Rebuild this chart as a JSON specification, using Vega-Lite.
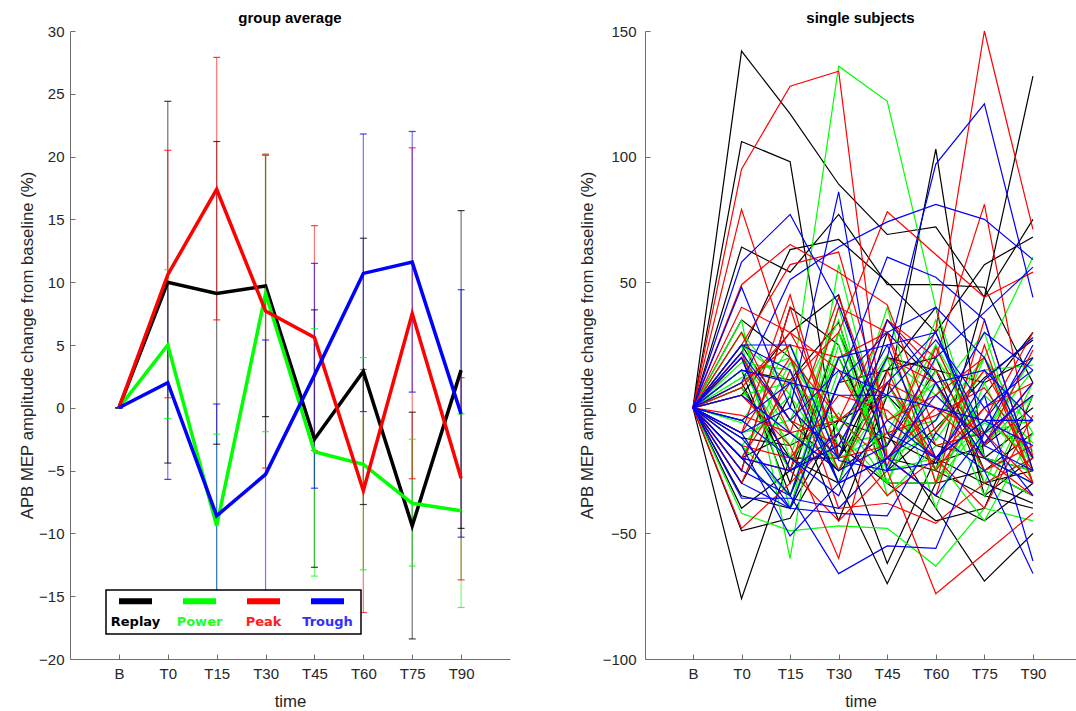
{
"$schema":"https://vega.github.io/schema/vega-lite/v6.json",
"background":"white",
"padding":{"left":19,"top":11,"right":0,"bottom":0},
"spacing":135,
"bounds":"flush",
"config":{"view":{"stroke":null},"font":"Liberation Sans",
"axis":{"domainColor":"#6e6e6e","tickColor":"#6e6e6e","labelColor":"#262626","labelFontSize":15,"titleFontSize":16.8,"titleFontWeight":"normal","titleColor":"#262626","grid":false,"tickSize":-5,"labelPadding":12,"titlePadding":12},
"title":{"fontSize":15,"fontWeight":"bold","color":"#000000","offset":-2,"font":"Liberation Sans"}},
"datasets":{
"avg":[
{"g":"Replay","t":"B","m":0,"lo":0,"hi":0},{"g":"Replay","t":"T0","m":10.0,"lo":-4.4,"hi":24.4},{"g":"Replay","t":"T15","m":9.1,"lo":-2.9,"hi":21.2},{"g":"Replay","t":"T30","m":9.7,"lo":-0.7,"hi":20.1},{"g":"Replay","t":"T45","m":-2.5,"lo":-12.7,"hi":7.8},{"g":"Replay","t":"T60","m":2.9,"lo":-7.7,"hi":13.5},{"g":"Replay","t":"T75","m":-9.4,"lo":-18.4,"hi":-0.35},{"g":"Replay","t":"T90","m":3.0,"lo":-9.6,"hi":15.7},
{"g":"Power","t":"B","m":0,"lo":0,"hi":0},{"g":"Power","t":"T0","m":5.0,"lo":-0.85,"hi":11.0},{"g":"Power","t":"T15","m":-9.4,"lo":-16.8,"hi":-2.1},{"g":"Power","t":"T30","m":9.1,"lo":-1.9,"hi":20.1},{"g":"Power","t":"T45","m":-3.5,"lo":-13.4,"hi":6.3},{"g":"Power","t":"T60","m":-4.5,"lo":-12.9,"hi":4.0},{"g":"Power","t":"T75","m":-7.6,"lo":-12.6,"hi":-2.5},{"g":"Power","t":"T90","m":-8.2,"lo":-15.9,"hi":-0.5},
{"g":"Peak","t":"B","m":0,"lo":0,"hi":0},{"g":"Peak","t":"T0","m":10.6,"lo":0.8,"hi":20.5},{"g":"Peak","t":"T15","m":17.4,"lo":7.0,"hi":27.9},{"g":"Peak","t":"T30","m":7.7,"lo":-4.8,"hi":20.2},{"g":"Peak","t":"T45","m":5.6,"lo":-3.4,"hi":14.5},{"g":"Peak","t":"T60","m":-6.6,"lo":-16.3,"hi":3.05},{"g":"Peak","t":"T75","m":7.5,"lo":-5.65,"hi":20.7},{"g":"Peak","t":"T90","m":-5.6,"lo":-13.7,"hi":2.4},
{"g":"Trough","t":"B","m":0,"lo":0,"hi":0},{"g":"Trough","t":"T0","m":2.0,"lo":-5.7,"hi":9.9},{"g":"Trough","t":"T15","m":-8.6,"lo":-17.6,"hi":0.3},{"g":"Trough","t":"T30","m":-5.3,"lo":-16.0,"hi":5.4},{"g":"Trough","t":"T45","m":2.6,"lo":-6.4,"hi":11.5},{"g":"Trough","t":"T60","m":10.7,"lo":-0.3,"hi":21.8},{"g":"Trough","t":"T75","m":11.6,"lo":1.25,"hi":22.0},{"g":"Trough","t":"T90","m":-0.5,"lo":-10.3,"hi":9.4}
],
"subj":[
{"g":"Replay","s":"R1","t":"B","v":0},{"g":"Replay","s":"R1","t":"T0","v":142},{"g":"Replay","s":"R1","t":"T15","v":117},{"g":"Replay","s":"R1","t":"T30","v":89},{"g":"Replay","s":"R1","t":"T45","v":69},{"g":"Replay","s":"R1","t":"T60","v":72},{"g":"Replay","s":"R1","t":"T75","v":44},{"g":"Replay","s":"R1","t":"T90","v":75},
{"g":"Replay","s":"R2","t":"B","v":0},{"g":"Replay","s":"R2","t":"T0","v":106},{"g":"Replay","s":"R2","t":"T15","v":98},{"g":"Replay","s":"R2","t":"T30","v":-20},{"g":"Replay","s":"R2","t":"T45","v":10},{"g":"Replay","s":"R2","t":"T60","v":-25},{"g":"Replay","s":"R2","t":"T75","v":-35},{"g":"Replay","s":"R2","t":"T90","v":-40},
{"g":"Replay","s":"R3","t":"B","v":0},{"g":"Replay","s":"R3","t":"T0","v":64},{"g":"Replay","s":"R3","t":"T15","v":54},{"g":"Replay","s":"R3","t":"T30","v":77},{"g":"Replay","s":"R3","t":"T45","v":49},{"g":"Replay","s":"R3","t":"T60","v":49},{"g":"Replay","s":"R3","t":"T75","v":48},{"g":"Replay","s":"R3","t":"T90","v":10},
{"g":"Replay","s":"R4","t":"B","v":0},{"g":"Replay","s":"R4","t":"T0","v":22},{"g":"Replay","s":"R4","t":"T15","v":63},{"g":"Replay","s":"R4","t":"T30","v":67},{"g":"Replay","s":"R4","t":"T45","v":50},{"g":"Replay","s":"R4","t":"T60","v":30},{"g":"Replay","s":"R4","t":"T75","v":57},{"g":"Replay","s":"R4","t":"T90","v":68},
{"g":"Replay","s":"R5","t":"B","v":0},{"g":"Replay","s":"R5","t":"T0","v":-76},{"g":"Replay","s":"R5","t":"T15","v":-20},{"g":"Replay","s":"R5","t":"T30","v":-30},{"g":"Replay","s":"R5","t":"T45","v":-70},{"g":"Replay","s":"R5","t":"T60","v":-30},{"g":"Replay","s":"R5","t":"T75","v":-25},{"g":"Replay","s":"R5","t":"T90","v":-35},
{"g":"Replay","s":"R6","t":"B","v":0},{"g":"Replay","s":"R6","t":"T0","v":-49},{"g":"Replay","s":"R6","t":"T15","v":-44},{"g":"Replay","s":"R6","t":"T30","v":-10},{"g":"Replay","s":"R6","t":"T45","v":-62},{"g":"Replay","s":"R6","t":"T60","v":-20},{"g":"Replay","s":"R6","t":"T75","v":-30},{"g":"Replay","s":"R6","t":"T90","v":-38},
{"g":"Replay","s":"R7","t":"B","v":0},{"g":"Replay","s":"R7","t":"T0","v":-30},{"g":"Replay","s":"R7","t":"T15","v":5},{"g":"Replay","s":"R7","t":"T30","v":-45},{"g":"Replay","s":"R7","t":"T45","v":5},{"g":"Replay","s":"R7","t":"T60","v":103},{"g":"Replay","s":"R7","t":"T75","v":-20},{"g":"Replay","s":"R7","t":"T90","v":-30},
{"g":"Replay","s":"R8","t":"B","v":0},{"g":"Replay","s":"R8","t":"T0","v":10},{"g":"Replay","s":"R8","t":"T15","v":-25},{"g":"Replay","s":"R8","t":"T30","v":20},{"g":"Replay","s":"R8","t":"T45","v":-20},{"g":"Replay","s":"R8","t":"T60","v":-25},{"g":"Replay","s":"R8","t":"T75","v":44},{"g":"Replay","s":"R8","t":"T90","v":132},
{"g":"Replay","s":"R9","t":"B","v":0},{"g":"Replay","s":"R9","t":"T0","v":25},{"g":"Replay","s":"R9","t":"T15","v":-5},{"g":"Replay","s":"R9","t":"T30","v":-25},{"g":"Replay","s":"R9","t":"T45","v":-10},{"g":"Replay","s":"R9","t":"T60","v":-40},{"g":"Replay","s":"R9","t":"T75","v":-69},{"g":"Replay","s":"R9","t":"T90","v":-50},
{"g":"Replay","s":"R10","t":"B","v":0},{"g":"Replay","s":"R10","t":"T0","v":20},{"g":"Replay","s":"R10","t":"T15","v":-30},{"g":"Replay","s":"R10","t":"T30","v":30},{"g":"Replay","s":"R10","t":"T45","v":-15},{"g":"Replay","s":"R10","t":"T60","v":15},{"g":"Replay","s":"R10","t":"T75","v":10},{"g":"Replay","s":"R10","t":"T90","v":20},
{"g":"Replay","s":"R11","t":"B","v":0},{"g":"Replay","s":"R11","t":"T0","v":-40},{"g":"Replay","s":"R11","t":"T15","v":-25},{"g":"Replay","s":"R11","t":"T30","v":-15},{"g":"Replay","s":"R11","t":"T45","v":-30},{"g":"Replay","s":"R11","t":"T60","v":-45},{"g":"Replay","s":"R11","t":"T75","v":-40},{"g":"Replay","s":"R11","t":"T90","v":5},
{"g":"Replay","s":"R12","t":"B","v":0},{"g":"Replay","s":"R12","t":"T0","v":8},{"g":"Replay","s":"R12","t":"T15","v":-20},{"g":"Replay","s":"R12","t":"T30","v":-20},{"g":"Replay","s":"R12","t":"T45","v":20},{"g":"Replay","s":"R12","t":"T60","v":15},{"g":"Replay","s":"R12","t":"T75","v":-30},{"g":"Replay","s":"R12","t":"T90","v":-25},
{"g":"Replay","s":"R13","t":"B","v":0},{"g":"Replay","s":"R13","t":"T0","v":-20},{"g":"Replay","s":"R13","t":"T15","v":-10},{"g":"Replay","s":"R13","t":"T30","v":-25},{"g":"Replay","s":"R13","t":"T45","v":15},{"g":"Replay","s":"R13","t":"T60","v":20},{"g":"Replay","s":"R13","t":"T75","v":-25},{"g":"Replay","s":"R13","t":"T90","v":-10},
{"g":"Replay","s":"R14","t":"B","v":0},{"g":"Replay","s":"R14","t":"T0","v":-35},{"g":"Replay","s":"R14","t":"T15","v":-40},{"g":"Replay","s":"R14","t":"T30","v":-5},{"g":"Replay","s":"R14","t":"T45","v":-12},{"g":"Replay","s":"R14","t":"T60","v":-22},{"g":"Replay","s":"R14","t":"T75","v":-15},{"g":"Replay","s":"R14","t":"T90","v":0},
{"g":"Replay","s":"R15","t":"B","v":0},{"g":"Replay","s":"R15","t":"T0","v":5},{"g":"Replay","s":"R15","t":"T15","v":30},{"g":"Replay","s":"R15","t":"T30","v":45},{"g":"Replay","s":"R15","t":"T45","v":-20},{"g":"Replay","s":"R15","t":"T60","v":-35},{"g":"Replay","s":"R15","t":"T75","v":-45},{"g":"Replay","s":"R15","t":"T90","v":-30},
{"g":"Replay","s":"R16","t":"B","v":0},{"g":"Replay","s":"R16","t":"T0","v":-12},{"g":"Replay","s":"R16","t":"T15","v":-15},{"g":"Replay","s":"R16","t":"T30","v":-5},{"g":"Replay","s":"R16","t":"T45","v":5},{"g":"Replay","s":"R16","t":"T60","v":-15},{"g":"Replay","s":"R16","t":"T75","v":-20},{"g":"Replay","s":"R16","t":"T90","v":-5},
{"g":"Replay","s":"R17","t":"B","v":0},{"g":"Replay","s":"R17","t":"T0","v":35},{"g":"Replay","s":"R17","t":"T15","v":20},{"g":"Replay","s":"R17","t":"T30","v":-30},{"g":"Replay","s":"R17","t":"T45","v":30},{"g":"Replay","s":"R17","t":"T60","v":10},{"g":"Replay","s":"R17","t":"T75","v":-20},{"g":"Replay","s":"R17","t":"T90","v":-25},
{"g":"Replay","s":"R18","t":"B","v":0},{"g":"Replay","s":"R18","t":"T0","v":-25},{"g":"Replay","s":"R18","t":"T15","v":40},{"g":"Replay","s":"R18","t":"T30","v":25},{"g":"Replay","s":"R18","t":"T45","v":-30},{"g":"Replay","s":"R18","t":"T60","v":-30},{"g":"Replay","s":"R18","t":"T75","v":5},{"g":"Replay","s":"R18","t":"T90","v":30},
{"g":"Replay","s":"R19","t":"B","v":0},{"g":"Replay","s":"R19","t":"T0","v":15},{"g":"Replay","s":"R19","t":"T15","v":-35},{"g":"Replay","s":"R19","t":"T30","v":10},{"g":"Replay","s":"R19","t":"T45","v":15},{"g":"Replay","s":"R19","t":"T60","v":40},{"g":"Replay","s":"R19","t":"T75","v":-35},{"g":"Replay","s":"R19","t":"T90","v":-20},
{"g":"Replay","s":"R20","t":"B","v":0},{"g":"Replay","s":"R20","t":"T0","v":15},{"g":"Replay","s":"R20","t":"T15","v":11},{"g":"Replay","s":"R20","t":"T30","v":34},{"g":"Replay","s":"R20","t":"T45","v":-25},{"g":"Replay","s":"R20","t":"T60","v":-8},{"g":"Replay","s":"R20","t":"T75","v":12},{"g":"Replay","s":"R20","t":"T90","v":27},
{"g":"Power","s":"P1","t":"B","v":0},{"g":"Power","s":"P1","t":"T0","v":30},{"g":"Power","s":"P1","t":"T15","v":5},{"g":"Power","s":"P1","t":"T30","v":136},{"g":"Power","s":"P1","t":"T45","v":122},{"g":"Power","s":"P1","t":"T60","v":40},{"g":"Power","s":"P1","t":"T75","v":-20},{"g":"Power","s":"P1","t":"T90","v":-30},
{"g":"Power","s":"P2","t":"B","v":0},{"g":"Power","s":"P2","t":"T0","v":35},{"g":"Power","s":"P2","t":"T15","v":-60},{"g":"Power","s":"P2","t":"T30","v":57},{"g":"Power","s":"P2","t":"T45","v":-20},{"g":"Power","s":"P2","t":"T60","v":-10},{"g":"Power","s":"P2","t":"T75","v":20},{"g":"Power","s":"P2","t":"T90","v":60},
{"g":"Power","s":"P3","t":"B","v":0},{"g":"Power","s":"P3","t":"T0","v":-42},{"g":"Power","s":"P3","t":"T15","v":-49},{"g":"Power","s":"P3","t":"T30","v":-47},{"g":"Power","s":"P3","t":"T45","v":-48},{"g":"Power","s":"P3","t":"T60","v":-63},{"g":"Power","s":"P3","t":"T75","v":-40},{"g":"Power","s":"P3","t":"T90","v":-45},
{"g":"Power","s":"P4","t":"B","v":0},{"g":"Power","s":"P4","t":"T0","v":15},{"g":"Power","s":"P4","t":"T15","v":-15},{"g":"Power","s":"P4","t":"T30","v":20},{"g":"Power","s":"P4","t":"T45","v":-25},{"g":"Power","s":"P4","t":"T60","v":-20},{"g":"Power","s":"P4","t":"T75","v":-45},{"g":"Power","s":"P4","t":"T90","v":-10},
{"g":"Power","s":"P5","t":"B","v":0},{"g":"Power","s":"P5","t":"T0","v":10},{"g":"Power","s":"P5","t":"T15","v":25},{"g":"Power","s":"P5","t":"T30","v":-15},{"g":"Power","s":"P5","t":"T45","v":-10},{"g":"Power","s":"P5","t":"T60","v":25},{"g":"Power","s":"P5","t":"T75","v":-10},{"g":"Power","s":"P5","t":"T90","v":20},
{"g":"Power","s":"P6","t":"B","v":0},{"g":"Power","s":"P6","t":"T0","v":20},{"g":"Power","s":"P6","t":"T15","v":-10},{"g":"Power","s":"P6","t":"T30","v":-20},{"g":"Power","s":"P6","t":"T45","v":40},{"g":"Power","s":"P6","t":"T60","v":-30},{"g":"Power","s":"P6","t":"T75","v":5},{"g":"Power","s":"P6","t":"T90","v":-14},
{"g":"Power","s":"P7","t":"B","v":0},{"g":"Power","s":"P7","t":"T0","v":8},{"g":"Power","s":"P7","t":"T15","v":-25},{"g":"Power","s":"P7","t":"T30","v":30},{"g":"Power","s":"P7","t":"T45","v":-5},{"g":"Power","s":"P7","t":"T60","v":10},{"g":"Power","s":"P7","t":"T75","v":-25},{"g":"Power","s":"P7","t":"T90","v":-35},
{"g":"Power","s":"P8","t":"B","v":0},{"g":"Power","s":"P8","t":"T0","v":12},{"g":"Power","s":"P8","t":"T15","v":20},{"g":"Power","s":"P8","t":"T30","v":-10},{"g":"Power","s":"P8","t":"T45","v":-30},{"g":"Power","s":"P8","t":"T60","v":-30},{"g":"Power","s":"P8","t":"T75","v":-5},{"g":"Power","s":"P8","t":"T90","v":-20},
{"g":"Power","s":"P9","t":"B","v":0},{"g":"Power","s":"P9","t":"T0","v":-20},{"g":"Power","s":"P9","t":"T15","v":-40},{"g":"Power","s":"P9","t":"T30","v":15},{"g":"Power","s":"P9","t":"T45","v":-15},{"g":"Power","s":"P9","t":"T60","v":35},{"g":"Power","s":"P9","t":"T75","v":-30},{"g":"Power","s":"P9","t":"T90","v":10},
{"g":"Power","s":"P10","t":"B","v":0},{"g":"Power","s":"P10","t":"T0","v":25},{"g":"Power","s":"P10","t":"T15","v":10},{"g":"Power","s":"P10","t":"T30","v":-30},{"g":"Power","s":"P10","t":"T45","v":20},{"g":"Power","s":"P10","t":"T60","v":5},{"g":"Power","s":"P10","t":"T75","v":30},{"g":"Power","s":"P10","t":"T90","v":-30},
{"g":"Power","s":"P11","t":"B","v":0},{"g":"Power","s":"P11","t":"T0","v":-10},{"g":"Power","s":"P11","t":"T15","v":-5},{"g":"Power","s":"P11","t":"T30","v":35},{"g":"Power","s":"P11","t":"T45","v":-35},{"g":"Power","s":"P11","t":"T60","v":-15},{"g":"Power","s":"P11","t":"T75","v":-10},{"g":"Power","s":"P11","t":"T90","v":15},
{"g":"Power","s":"P12","t":"B","v":0},{"g":"Power","s":"P12","t":"T0","v":5},{"g":"Power","s":"P12","t":"T15","v":10},{"g":"Power","s":"P12","t":"T30","v":-5},{"g":"Power","s":"P12","t":"T45","v":10},{"g":"Power","s":"P12","t":"T60","v":-25},{"g":"Power","s":"P12","t":"T75","v":20},{"g":"Power","s":"P12","t":"T90","v":-25},
{"g":"Power","s":"P13","t":"B","v":0},{"g":"Power","s":"P13","t":"T0","v":-15},{"g":"Power","s":"P13","t":"T15","v":-35},{"g":"Power","s":"P13","t":"T30","v":25},{"g":"Power","s":"P13","t":"T45","v":-25},{"g":"Power","s":"P13","t":"T60","v":15},{"g":"Power","s":"P13","t":"T75","v":-15},{"g":"Power","s":"P13","t":"T90","v":5},
{"g":"Power","s":"P14","t":"B","v":0},{"g":"Power","s":"P14","t":"T0","v":18},{"g":"Power","s":"P14","t":"T15","v":15},{"g":"Power","s":"P14","t":"T30","v":-25},{"g":"Power","s":"P14","t":"T45","v":5},{"g":"Power","s":"P14","t":"T60","v":-24},{"g":"Power","s":"P14","t":"T75","v":-6},{"g":"Power","s":"P14","t":"T90","v":-17},
{"g":"Power","s":"P15","t":"B","v":0},{"g":"Power","s":"P15","t":"T0","v":-5},{"g":"Power","s":"P15","t":"T15","v":-20},{"g":"Power","s":"P15","t":"T30","v":-2},{"g":"Power","s":"P15","t":"T45","v":-30},{"g":"Power","s":"P15","t":"T60","v":20},{"g":"Power","s":"P15","t":"T75","v":-10},{"g":"Power","s":"P15","t":"T90","v":-5},
{"g":"Power","s":"P16","t":"B","v":0},{"g":"Power","s":"P16","t":"T0","v":-6},{"g":"Power","s":"P16","t":"T15","v":25},{"g":"Power","s":"P16","t":"T30","v":-20},{"g":"Power","s":"P16","t":"T45","v":-10},{"g":"Power","s":"P16","t":"T60","v":-5},{"g":"Power","s":"P16","t":"T75","v":20},{"g":"Power","s":"P16","t":"T90","v":-10},
{"g":"Power","s":"P17","t":"B","v":0},{"g":"Power","s":"P17","t":"T0","v":30},{"g":"Power","s":"P17","t":"T15","v":-20},{"g":"Power","s":"P17","t":"T30","v":40},{"g":"Power","s":"P17","t":"T45","v":-30},{"g":"Power","s":"P17","t":"T60","v":10},{"g":"Power","s":"P17","t":"T75","v":-35},{"g":"Power","s":"P17","t":"T90","v":5},
{"g":"Power","s":"P18","t":"B","v":0},{"g":"Power","s":"P18","t":"T0","v":-15},{"g":"Power","s":"P18","t":"T15","v":5},{"g":"Power","s":"P18","t":"T30","v":-25},{"g":"Power","s":"P18","t":"T45","v":20},{"g":"Power","s":"P18","t":"T60","v":-40},{"g":"Power","s":"P18","t":"T75","v":10},{"g":"Power","s":"P18","t":"T90","v":-30},
{"g":"Power","s":"P19","t":"B","v":0},{"g":"Power","s":"P19","t":"T0","v":25},{"g":"Power","s":"P19","t":"T15","v":-40},{"g":"Power","s":"P19","t":"T30","v":30},{"g":"Power","s":"P19","t":"T45","v":-25},{"g":"Power","s":"P19","t":"T60","v":25},{"g":"Power","s":"P19","t":"T75","v":-20},{"g":"Power","s":"P19","t":"T90","v":-25},
{"g":"Power","s":"P20","t":"B","v":0},{"g":"Power","s":"P20","t":"T0","v":-20},{"g":"Power","s":"P20","t":"T15","v":18},{"g":"Power","s":"P20","t":"T30","v":-9},{"g":"Power","s":"P20","t":"T45","v":21},{"g":"Power","s":"P20","t":"T60","v":-13},{"g":"Power","s":"P20","t":"T75","v":15},{"g":"Power","s":"P20","t":"T90","v":17},
{"g":"Peak","s":"K1","t":"B","v":0},{"g":"Peak","s":"K1","t":"T0","v":95},{"g":"Peak","s":"K1","t":"T15","v":128},{"g":"Peak","s":"K1","t":"T30","v":134},{"g":"Peak","s":"K1","t":"T45","v":-20},{"g":"Peak","s":"K1","t":"T60","v":0},{"g":"Peak","s":"K1","t":"T75","v":-10},{"g":"Peak","s":"K1","t":"T90","v":-30},
{"g":"Peak","s":"K2","t":"B","v":0},{"g":"Peak","s":"K2","t":"T0","v":79},{"g":"Peak","s":"K2","t":"T15","v":20},{"g":"Peak","s":"K2","t":"T30","v":-25},{"g":"Peak","s":"K2","t":"T45","v":10},{"g":"Peak","s":"K2","t":"T60","v":0},{"g":"Peak","s":"K2","t":"T75","v":-20},{"g":"Peak","s":"K2","t":"T90","v":-35},
{"g":"Peak","s":"K3","t":"B","v":0},{"g":"Peak","s":"K3","t":"T0","v":49},{"g":"Peak","s":"K3","t":"T15","v":65},{"g":"Peak","s":"K3","t":"T30","v":54},{"g":"Peak","s":"K3","t":"T45","v":41},{"g":"Peak","s":"K3","t":"T60","v":-10},{"g":"Peak","s":"K3","t":"T75","v":15},{"g":"Peak","s":"K3","t":"T90","v":-20},
{"g":"Peak","s":"K4","t":"B","v":0},{"g":"Peak","s":"K4","t":"T0","v":25},{"g":"Peak","s":"K4","t":"T15","v":57},{"g":"Peak","s":"K4","t":"T30","v":62},{"g":"Peak","s":"K4","t":"T45","v":-5},{"g":"Peak","s":"K4","t":"T60","v":5},{"g":"Peak","s":"K4","t":"T75","v":20},{"g":"Peak","s":"K4","t":"T90","v":-30},
{"g":"Peak","s":"K5","t":"B","v":0},{"g":"Peak","s":"K5","t":"T0","v":-20},{"g":"Peak","s":"K5","t":"T15","v":10},{"g":"Peak","s":"K5","t":"T30","v":30},{"g":"Peak","s":"K5","t":"T45","v":78},{"g":"Peak","s":"K5","t":"T60","v":61},{"g":"Peak","s":"K5","t":"T75","v":44},{"g":"Peak","s":"K5","t":"T90","v":54},
{"g":"Peak","s":"K6","t":"B","v":0},{"g":"Peak","s":"K6","t":"T0","v":30},{"g":"Peak","s":"K6","t":"T15","v":-10},{"g":"Peak","s":"K6","t":"T30","v":-5},{"g":"Peak","s":"K6","t":"T45","v":35},{"g":"Peak","s":"K6","t":"T60","v":20},{"g":"Peak","s":"K6","t":"T75","v":81},{"g":"Peak","s":"K6","t":"T90","v":-20},
{"g":"Peak","s":"K7","t":"B","v":0},{"g":"Peak","s":"K7","t":"T0","v":-25},{"g":"Peak","s":"K7","t":"T15","v":40},{"g":"Peak","s":"K7","t":"T30","v":-20},{"g":"Peak","s":"K7","t":"T45","v":-15},{"g":"Peak","s":"K7","t":"T60","v":31},{"g":"Peak","s":"K7","t":"T75","v":150},{"g":"Peak","s":"K7","t":"T90","v":71},
{"g":"Peak","s":"K8","t":"B","v":0},{"g":"Peak","s":"K8","t":"T0","v":-48},{"g":"Peak","s":"K8","t":"T15","v":-30},{"g":"Peak","s":"K8","t":"T30","v":-10},{"g":"Peak","s":"K8","t":"T45","v":-35},{"g":"Peak","s":"K8","t":"T60","v":-20},{"g":"Peak","s":"K8","t":"T75","v":-40},{"g":"Peak","s":"K8","t":"T90","v":-3},
{"g":"Peak","s":"K9","t":"B","v":0},{"g":"Peak","s":"K9","t":"T0","v":5},{"g":"Peak","s":"K9","t":"T15","v":-15},{"g":"Peak","s":"K9","t":"T30","v":-60},{"g":"Peak","s":"K9","t":"T45","v":15},{"g":"Peak","s":"K9","t":"T60","v":-25},{"g":"Peak","s":"K9","t":"T75","v":0},{"g":"Peak","s":"K9","t":"T90","v":10},
{"g":"Peak","s":"K10","t":"B","v":0},{"g":"Peak","s":"K10","t":"T0","v":-30},{"g":"Peak","s":"K10","t":"T15","v":15},{"g":"Peak","s":"K10","t":"T30","v":-40},{"g":"Peak","s":"K10","t":"T45","v":-38},{"g":"Peak","s":"K10","t":"T60","v":-46},{"g":"Peak","s":"K10","t":"T75","v":-30},{"g":"Peak","s":"K10","t":"T90","v":-20},
{"g":"Peak","s":"K11","t":"B","v":0},{"g":"Peak","s":"K11","t":"T0","v":-20},{"g":"Peak","s":"K11","t":"T15","v":-25},{"g":"Peak","s":"K11","t":"T30","v":-45},{"g":"Peak","s":"K11","t":"T45","v":-25},{"g":"Peak","s":"K11","t":"T60","v":-74},{"g":"Peak","s":"K11","t":"T75","v":-58},{"g":"Peak","s":"K11","t":"T90","v":-42},
{"g":"Peak","s":"K12","t":"B","v":0},{"g":"Peak","s":"K12","t":"T0","v":10},{"g":"Peak","s":"K12","t":"T15","v":25},{"g":"Peak","s":"K12","t":"T30","v":20},{"g":"Peak","s":"K12","t":"T45","v":30},{"g":"Peak","s":"K12","t":"T60","v":-15},{"g":"Peak","s":"K12","t":"T75","v":-10},{"g":"Peak","s":"K12","t":"T90","v":5},
{"g":"Peak","s":"K13","t":"B","v":0},{"g":"Peak","s":"K13","t":"T0","v":-15},{"g":"Peak","s":"K13","t":"T15","v":-20},{"g":"Peak","s":"K13","t":"T30","v":5},{"g":"Peak","s":"K13","t":"T45","v":-1},{"g":"Peak","s":"K13","t":"T60","v":-20},{"g":"Peak","s":"K13","t":"T75","v":0},{"g":"Peak","s":"K13","t":"T90","v":-25},
{"g":"Peak","s":"K14","t":"B","v":0},{"g":"Peak","s":"K14","t":"T0","v":20},{"g":"Peak","s":"K14","t":"T15","v":-5},{"g":"Peak","s":"K14","t":"T30","v":-15},{"g":"Peak","s":"K14","t":"T45","v":20},{"g":"Peak","s":"K14","t":"T60","v":10},{"g":"Peak","s":"K14","t":"T75","v":-25},{"g":"Peak","s":"K14","t":"T90","v":-15},
{"g":"Peak","s":"K15","t":"B","v":0},{"g":"Peak","s":"K15","t":"T0","v":8},{"g":"Peak","s":"K15","t":"T15","v":30},{"g":"Peak","s":"K15","t":"T30","v":-5},{"g":"Peak","s":"K15","t":"T45","v":10},{"g":"Peak","s":"K15","t":"T60","v":-20},{"g":"Peak","s":"K15","t":"T75","v":-5},{"g":"Peak","s":"K15","t":"T90","v":30},
{"g":"Peak","s":"K16","t":"B","v":0},{"g":"Peak","s":"K16","t":"T0","v":-3},{"g":"Peak","s":"K16","t":"T15","v":-10},{"g":"Peak","s":"K16","t":"T30","v":44},{"g":"Peak","s":"K16","t":"T45","v":-10},{"g":"Peak","s":"K16","t":"T60","v":-3},{"g":"Peak","s":"K16","t":"T75","v":8},{"g":"Peak","s":"K16","t":"T90","v":-20},
{"g":"Peak","s":"K17","t":"B","v":0},{"g":"Peak","s":"K17","t":"T0","v":40},{"g":"Peak","s":"K17","t":"T15","v":30},{"g":"Peak","s":"K17","t":"T30","v":15},{"g":"Peak","s":"K17","t":"T45","v":-20},{"g":"Peak","s":"K17","t":"T60","v":-35},{"g":"Peak","s":"K17","t":"T75","v":25},{"g":"Peak","s":"K17","t":"T90","v":-30},
{"g":"Peak","s":"K18","t":"B","v":0},{"g":"Peak","s":"K18","t":"T0","v":-10},{"g":"Peak","s":"K18","t":"T15","v":45},{"g":"Peak","s":"K18","t":"T30","v":-20},{"g":"Peak","s":"K18","t":"T45","v":35},{"g":"Peak","s":"K18","t":"T60","v":15},{"g":"Peak","s":"K18","t":"T75","v":-15},{"g":"Peak","s":"K18","t":"T90","v":10},
{"g":"Peak","s":"K19","t":"B","v":0},{"g":"Peak","s":"K19","t":"T0","v":22},{"g":"Peak","s":"K19","t":"T15","v":-25},{"g":"Peak","s":"K19","t":"T30","v":40},{"g":"Peak","s":"K19","t":"T45","v":30},{"g":"Peak","s":"K19","t":"T60","v":-30},{"g":"Peak","s":"K19","t":"T75","v":35},{"g":"Peak","s":"K19","t":"T90","v":-25},
{"g":"Peak","s":"K20","t":"B","v":0},{"g":"Peak","s":"K20","t":"T0","v":-10},{"g":"Peak","s":"K20","t":"T15","v":20},{"g":"Peak","s":"K20","t":"T30","v":-4},{"g":"Peak","s":"K20","t":"T45","v":-23},{"g":"Peak","s":"K20","t":"T60","v":24},{"g":"Peak","s":"K20","t":"T75","v":-15},{"g":"Peak","s":"K20","t":"T90","v":23},
{"g":"Trough","s":"B1","t":"B","v":0},{"g":"Trough","s":"B1","t":"T0","v":-20},{"g":"Trough","s":"B1","t":"T15","v":-25},{"g":"Trough","s":"B1","t":"T30","v":-15},{"g":"Trough","s":"B1","t":"T45","v":20},{"g":"Trough","s":"B1","t":"T60","v":97},{"g":"Trough","s":"B1","t":"T75","v":121},{"g":"Trough","s":"B1","t":"T90","v":44},
{"g":"Trough","s":"B2","t":"B","v":0},{"g":"Trough","s":"B2","t":"T0","v":10},{"g":"Trough","s":"B2","t":"T15","v":51},{"g":"Trough","s":"B2","t":"T30","v":64},{"g":"Trough","s":"B2","t":"T45","v":74},{"g":"Trough","s":"B2","t":"T60","v":81},{"g":"Trough","s":"B2","t":"T75","v":75},{"g":"Trough","s":"B2","t":"T90","v":59},
{"g":"Trough","s":"B3","t":"B","v":0},{"g":"Trough","s":"B3","t":"T0","v":58},{"g":"Trough","s":"B3","t":"T15","v":77},{"g":"Trough","s":"B3","t":"T30","v":41},{"g":"Trough","s":"B3","t":"T45","v":-10},{"g":"Trough","s":"B3","t":"T60","v":-20},{"g":"Trough","s":"B3","t":"T75","v":-5},{"g":"Trough","s":"B3","t":"T90","v":-15},
{"g":"Trough","s":"B4","t":"B","v":0},{"g":"Trough","s":"B4","t":"T0","v":48},{"g":"Trough","s":"B4","t":"T15","v":0},{"g":"Trough","s":"B4","t":"T30","v":86},{"g":"Trough","s":"B4","t":"T45","v":-25},{"g":"Trough","s":"B4","t":"T60","v":10},{"g":"Trough","s":"B4","t":"T75","v":-20},{"g":"Trough","s":"B4","t":"T90","v":-30},
{"g":"Trough","s":"B5","t":"B","v":0},{"g":"Trough","s":"B5","t":"T0","v":-10},{"g":"Trough","s":"B5","t":"T15","v":-40},{"g":"Trough","s":"B5","t":"T30","v":10},{"g":"Trough","s":"B5","t":"T45","v":60},{"g":"Trough","s":"B5","t":"T60","v":52},{"g":"Trough","s":"B5","t":"T75","v":35},{"g":"Trough","s":"B5","t":"T90","v":-25},
{"g":"Trough","s":"B6","t":"B","v":0},{"g":"Trough","s":"B6","t":"T0","v":5},{"g":"Trough","s":"B6","t":"T15","v":-10},{"g":"Trough","s":"B6","t":"T30","v":-25},{"g":"Trough","s":"B6","t":"T45","v":-15},{"g":"Trough","s":"B6","t":"T60","v":20},{"g":"Trough","s":"B6","t":"T75","v":38},{"g":"Trough","s":"B6","t":"T90","v":56},
{"g":"Trough","s":"B7","t":"B","v":0},{"g":"Trough","s":"B7","t":"T0","v":-25},{"g":"Trough","s":"B7","t":"T15","v":-35},{"g":"Trough","s":"B7","t":"T30","v":-66},{"g":"Trough","s":"B7","t":"T45","v":-55},{"g":"Trough","s":"B7","t":"T60","v":-56},{"g":"Trough","s":"B7","t":"T75","v":-10},{"g":"Trough","s":"B7","t":"T90","v":-35},
{"g":"Trough","s":"B8","t":"B","v":0},{"g":"Trough","s":"B8","t":"T0","v":-36},{"g":"Trough","s":"B8","t":"T15","v":-36},{"g":"Trough","s":"B8","t":"T30","v":-40},{"g":"Trough","s":"B8","t":"T45","v":-20},{"g":"Trough","s":"B8","t":"T60","v":-35},{"g":"Trough","s":"B8","t":"T75","v":-10},{"g":"Trough","s":"B8","t":"T90","v":5},
{"g":"Trough","s":"B9","t":"B","v":0},{"g":"Trough","s":"B9","t":"T0","v":-15},{"g":"Trough","s":"B9","t":"T15","v":-51},{"g":"Trough","s":"B9","t":"T30","v":-30},{"g":"Trough","s":"B9","t":"T45","v":-20},{"g":"Trough","s":"B9","t":"T60","v":5},{"g":"Trough","s":"B9","t":"T75","v":-14},{"g":"Trough","s":"B9","t":"T90","v":10},
{"g":"Trough","s":"B10","t":"B","v":0},{"g":"Trough","s":"B10","t":"T0","v":-20},{"g":"Trough","s":"B10","t":"T15","v":-40},{"g":"Trough","s":"B10","t":"T30","v":-42},{"g":"Trough","s":"B10","t":"T45","v":-43},{"g":"Trough","s":"B10","t":"T60","v":-10},{"g":"Trough","s":"B10","t":"T75","v":-25},{"g":"Trough","s":"B10","t":"T90","v":-66},
{"g":"Trough","s":"B11","t":"B","v":0},{"g":"Trough","s":"B11","t":"T0","v":20},{"g":"Trough","s":"B11","t":"T15","v":-25},{"g":"Trough","s":"B11","t":"T30","v":-10},{"g":"Trough","s":"B11","t":"T45","v":25},{"g":"Trough","s":"B11","t":"T60","v":-20},{"g":"Trough","s":"B11","t":"T75","v":5},{"g":"Trough","s":"B11","t":"T90","v":-61},
{"g":"Trough","s":"B12","t":"B","v":0},{"g":"Trough","s":"B12","t":"T0","v":-5},{"g":"Trough","s":"B12","t":"T15","v":-20},{"g":"Trough","s":"B12","t":"T30","v":-35},{"g":"Trough","s":"B12","t":"T45","v":10},{"g":"Trough","s":"B12","t":"T60","v":30},{"g":"Trough","s":"B12","t":"T75","v":-10},{"g":"Trough","s":"B12","t":"T90","v":25},
{"g":"Trough","s":"B13","t":"B","v":0},{"g":"Trough","s":"B13","t":"T0","v":15},{"g":"Trough","s":"B13","t":"T15","v":10},{"g":"Trough","s":"B13","t":"T30","v":5},{"g":"Trough","s":"B13","t":"T45","v":5},{"g":"Trough","s":"B13","t":"T60","v":27},{"g":"Trough","s":"B13","t":"T75","v":0},{"g":"Trough","s":"B13","t":"T90","v":15},
{"g":"Trough","s":"B14","t":"B","v":0},{"g":"Trough","s":"B14","t":"T0","v":-10},{"g":"Trough","s":"B14","t":"T15","v":0},{"g":"Trough","s":"B14","t":"T30","v":-20},{"g":"Trough","s":"B14","t":"T45","v":35},{"g":"Trough","s":"B14","t":"T60","v":10},{"g":"Trough","s":"B14","t":"T75","v":15},{"g":"Trough","s":"B14","t":"T90","v":-5},
{"g":"Trough","s":"B15","t":"B","v":0},{"g":"Trough","s":"B15","t":"T0","v":-5},{"g":"Trough","s":"B15","t":"T15","v":10},{"g":"Trough","s":"B15","t":"T30","v":-30},{"g":"Trough","s":"B15","t":"T45","v":-5},{"g":"Trough","s":"B15","t":"T60","v":-20},{"g":"Trough","s":"B15","t":"T75","v":-5},{"g":"Trough","s":"B15","t":"T90","v":20},
{"g":"Trough","s":"B16","t":"B","v":0},{"g":"Trough","s":"B16","t":"T0","v":22},{"g":"Trough","s":"B16","t":"T15","v":-5},{"g":"Trough","s":"B16","t":"T30","v":15},{"g":"Trough","s":"B16","t":"T45","v":5},{"g":"Trough","s":"B16","t":"T60","v":0},{"g":"Trough","s":"B16","t":"T75","v":-5},{"g":"Trough","s":"B16","t":"T90","v":-5},
{"g":"Trough","s":"B17","t":"B","v":0},{"g":"Trough","s":"B17","t":"T0","v":-30},{"g":"Trough","s":"B17","t":"T15","v":-40},{"g":"Trough","s":"B17","t":"T30","v":10},{"g":"Trough","s":"B17","t":"T45","v":30},{"g":"Trough","s":"B17","t":"T60","v":40},{"g":"Trough","s":"B17","t":"T75","v":20},{"g":"Trough","s":"B17","t":"T90","v":-20},
{"g":"Trough","s":"B18","t":"B","v":0},{"g":"Trough","s":"B18","t":"T0","v":25},{"g":"Trough","s":"B18","t":"T15","v":15},{"g":"Trough","s":"B18","t":"T30","v":-30},{"g":"Trough","s":"B18","t":"T45","v":-20},{"g":"Trough","s":"B18","t":"T60","v":-5},{"g":"Trough","s":"B18","t":"T75","v":30},{"g":"Trough","s":"B18","t":"T90","v":15},
{"g":"Trough","s":"B19","t":"B","v":0},{"g":"Trough","s":"B19","t":"T0","v":-12},{"g":"Trough","s":"B19","t":"T15","v":-35},{"g":"Trough","s":"B19","t":"T30","v":20},{"g":"Trough","s":"B19","t":"T45","v":25},{"g":"Trough","s":"B19","t":"T60","v":30},{"g":"Trough","s":"B19","t":"T75","v":-15},{"g":"Trough","s":"B19","t":"T90","v":-25},
{"g":"Trough","s":"B20","t":"B","v":0},{"g":"Trough","s":"B20","t":"T0","v":25},{"g":"Trough","s":"B20","t":"T15","v":25},{"g":"Trough","s":"B20","t":"T30","v":-21},{"g":"Trough","s":"B20","t":"T45","v":-25},{"g":"Trough","s":"B20","t":"T60","v":-22},{"g":"Trough","s":"B20","t":"T75","v":11},{"g":"Trough","s":"B20","t":"T90","v":28}
]},
"hconcat":[
{"title":"group average","width":440,"height":628,"data":{"name":"avg"},
"encoding":{
"x":{"field":"t","type":"ordinal","sort":["B","T0","T15","T30","T45","T60","T75","T90"],"scale":{"type":"point","padding":1.05},"axis":{"title":"time","labelAngle":0}},
"color":{"field":"g","type":"nominal","sort":["Replay","Power","Peak","Trough"],"scale":{"domain":["Replay","Power","Peak","Trough"],"range":["#000000","#00ff00","#ff0000","#0000ff"]},
"legend":{"title":null,"orient":"none","legendX":36,"legendY":559,"direction":"horizontal","columns":4,"gridAlign":"all","symbolType":"M-5.5,0H5.5","symbolSize":36,"symbolStrokeWidth":6,"symbolOpacity":1,"symbolOffset":18.5,"labelFont":"DejaVu Sans","labelFontWeight":"bold","labelFontSize":13,"labelAlign":"center","labelOffset":-4,"columnPadding":6,"padding":4.5,"strokeColor":"#000000","fillColor":"#ffffff","cornerRadius":0,
"encode":{"labels":{"update":{"dx":{"value":-2.5},"dy":{"value":21},"fill":{"signal":"datum.value === 'Replay' ? '#000000' : datum.value === 'Power' ? '#22ff22' : datum.value === 'Peak' ? '#ff2020' : '#3030ff'"}}},"symbols":{"update":{"fill":{"value":"transparent"},"stroke":{"signal":"datum.value === 'Replay' ? '#000000' : datum.value === 'Power' ? '#00ff00' : datum.value === 'Peak' ? '#ff0000' : '#3333ff'"}}},"legend":{"update":{"strokeWidth":{"value":1.5}}}}}}},
"layer":[
{"mark":{"type":"rule","opacity":0.55,"strokeWidth":1.2},"encoding":{"y":{"field":"lo","type":"quantitative","scale":{"domain":[-20,30],"nice":false,"zero":false},"axis":{"values":[-20,-15,-10,-5,0,5,10,15,20,25,30],"title":"APB MEP amplitude change from baseline (%)","labelPadding":11,"titlePadding":2}},"y2":{"field":"hi"}}},
{"mark":{"type":"tick","opacity":0.75,"size":7,"thickness":1.2},"encoding":{"y":{"field":"lo","type":"quantitative"}}},
{"mark":{"type":"tick","opacity":0.75,"size":7,"thickness":1.2},"encoding":{"y":{"field":"hi","type":"quantitative"}}},
{"mark":{"type":"line","strokeWidth":3.5},"encoding":{"y":{"field":"m","type":"quantitative"}}}
]},
{"title":"single subjects","width":431,"height":628,"data":{"name":"subj"},
"mark":{"type":"line","strokeWidth":1.2},
"encoding":{
"x":{"field":"t","type":"ordinal","sort":["B","T0","T15","T30","T45","T60","T75","T90"],"scale":{"type":"point","padding":0.937,"align":0.527},"axis":{"title":"time","labelAngle":0}},
"y":{"field":"v","type":"quantitative","scale":{"domain":[-100,150],"nice":false,"zero":false},"axis":{"values":[-100,-50,0,50,100,150],"title":"APB MEP amplitude change from baseline (%)","labelPadding":14,"titlePadding":6}},
"color":{"field":"g","type":"nominal","scale":{"domain":["Replay","Power","Peak","Trough"],"range":["#000000","#00ff00","#ff0000","#0000ff"]},"legend":null},
"detail":{"field":"s","type":"nominal"}}}
],
"resolve":{"scale":{"color":"independent"},"legend":{"color":"independent"}}
}
